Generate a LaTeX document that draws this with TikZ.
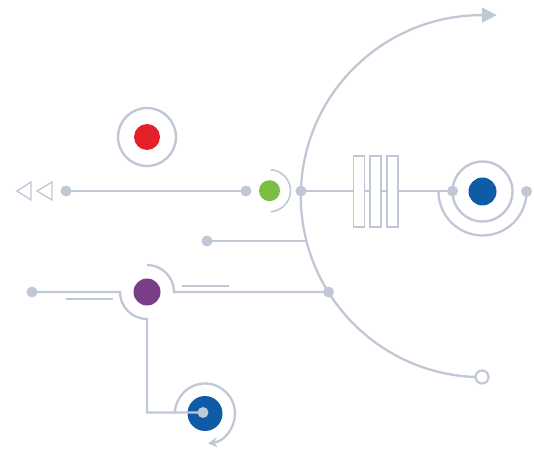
\documentclass[tikz,border=0pt]{standalone}
\usetikzlibrary{arrows.meta}
\definecolor{ln}{HTML}{C0C8D6}
\definecolor{cred}{HTML}{E42129}
\definecolor{cgreen}{HTML}{79BE43}
\definecolor{cblue}{HTML}{0E5BA6}
\definecolor{cpurple}{HTML}{7A3E86}
\begin{document}
\begin{tikzpicture}[x=1pt,y=1pt,
  dot/.style={circle,fill=ln,inner sep=0,minimum size=11pt},
  wire/.style={draw=ln,line width=2.3pt},
  fine/.style={draw=ln,line width=1.3pt},
  disk/.style={circle,inner sep=0,outer sep=0},
  ring/.style={circle,draw=ln,line width=2.4pt,inner sep=0},
  bar/.style={rectangle,draw=ln,line width=1.4pt,fill=white,minimum width=11pt,minimum height=71pt,inner sep=0}]
\useasboundingbox (0,0) rectangle (534,450);

% big arc
\node[circle,draw=ln,line width=2.2pt,fill=white,minimum size=13pt,inner sep=0,outer sep=0] (endc) at (482,73) {};
\draw[wire,-{Triangle[length=15pt,width=15pt]}] (endc.west) arc[start angle=268,end angle=90,radius=181] -- ++(15,0) coordinate (tip);

% red
\node[ring,minimum size=58pt] (redring) at (147,313) {};
\node[disk,fill=cred,minimum size=26pt] (red) at (147,313) {};

% row 1
\draw[fine] (17,259) -- (31,268) -- (31,250) -- cycle;
\draw[fine] (37,259) -- (52,268) -- (52,250) -- cycle;
\node[dot] (d1) at (66,259) {};
\node[dot] (d2) at (246,259) {};
\draw[wire] (d1.center) -- (d2.center);
\node[disk,fill=cgreen,minimum size=21pt] (green) at (269.5,259.3) {};
\draw[draw=ln,line width=1.6pt] ([shift={(87:21)}]green.center) arc[start angle=87,end angle=-87,radius=21];
\node[dot] (d3) at (301,259) {};
\node[dot] (d4) at (452.5,259) {};
\draw[wire] (d3.center) -- (d4.center);
\node[bar] (b1) at (358.7,258.5) {};
\node[bar] (b2) at (375.5,258.5) {};
\node[bar] (b3) at (392.5,258.5) {};
\node[disk,fill=cblue,minimum size=28pt] (blue) at (482.5,258.5) {};
\node[ring,minimum size=60pt] (bluering) at (482.5,258.5) {};
\node[dot] (d5) at (526.5,258.5) {};
\draw[wire] ([shift={(180:44)}]blue.center) arc[start angle=180,end angle=360,radius=44];

% row 2
\node[dot] (d6) at (207,209) {};
\coordinate (a2) at (306.5,209);
\draw[wire] (d6.center) -- (a2);

% purple row
\node[dot] (d7) at (32,158) {};
\node[disk,fill=cpurple,minimum size=27pt] (purple) at (147,158) {};
\node[dot] (d8) at (328.5,158) {};
\node[disk,fill=cblue,minimum size=35pt] (bb) at (205,36.5) {};
\node[dot] (d9) at (203,37.5) {};
\draw[wire] (d7.center) -- (120,158) arc[start angle=180,end angle=270,radius=27] -- (147,37.5) -- (d9.center);
\draw[wire] (147,185) arc[start angle=90,end angle=0,radius=27] -- (d8.center);
\draw[fine] (66,151) -- (113,151);
\draw[fine] (182,164) -- (229,164);
\draw[wire,-{Stealth[length=9pt,width=10pt]}] ([shift={(180:30)}]bb.center) arc[start angle=180,end angle=-84,radius=30];
\end{tikzpicture}
\end{document}
